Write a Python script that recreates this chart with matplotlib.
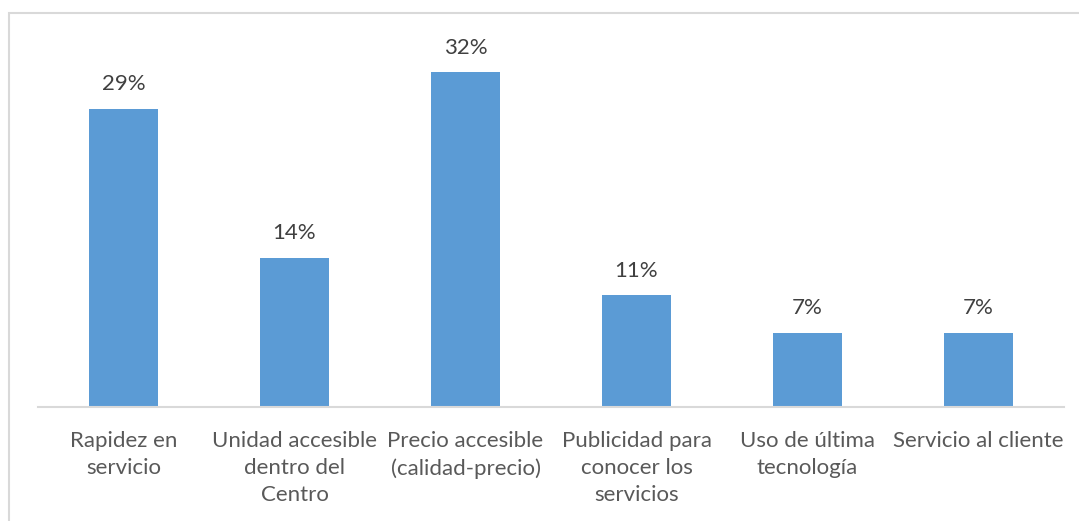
import matplotlib.pyplot as plt
from matplotlib.patches import Rectangle

categories = [
    "Rapidez en\nservicio",
    "Unidad accesible\ndentro del\nCentro",
    "Precio accesible\n(calidad-precio)",
    "Publicidad para\nconocer los\nservicios",
    "Uso de última\ntecnología",
    "Servicio al cliente",
]
shares = [28.6, 14.3, 32.1, 10.7, 7.1, 7.1]

bar_color = "#5b9bd5"
text_color = "#595959"

plt.rcParams["font.family"] = ["Lato", "DejaVu Sans"]

fig = plt.figure(figsize=(10.79, 5.21), dpi=100)
W, H = 1079, 521
ax = fig.add_axes([38 / W, 1 - 407 / H, (1064 - 38) / W, (407 - 40) / H])

x = range(len(categories))
bars = ax.bar(x, shares, width=0.4, color=bar_color, zorder=2)

for rect, v in zip(bars, shares):
    ax.annotate(f"{v:.0f}%", (rect.get_x() + rect.get_width() / 2, rect.get_height()),
                xytext=(0, 10.5), textcoords="offset points", ha="center", va="bottom",
                fontsize=16, color="#404040")

ax.set_xlim(-0.5, len(categories) - 0.5)
ax.set_ylim(0, 35.2)
ax.set_xticks(list(x))
ax.set_xticklabels(categories, fontsize=16, color=text_color, linespacing=1.46)
ax.tick_params(axis="x", length=0, pad=17)
ax.set_yticks([])
for side in ("top", "right", "left"):
    ax.spines[side].set_visible(False)
ax.spines["bottom"].set_color("#d9d9d9")
ax.spines["bottom"].set_linewidth(1.5)

# outer chart border, running off the right and bottom edges
fig.patches.append(Rectangle((8.5 / W, -0.05), 1.1, 1 - 12.5 / H + 0.05,
                             transform=fig.transFigure, fill=False,
                             edgecolor="#d9d9d9", linewidth=1.5))

fig.savefig("out.png", dpi=100)
